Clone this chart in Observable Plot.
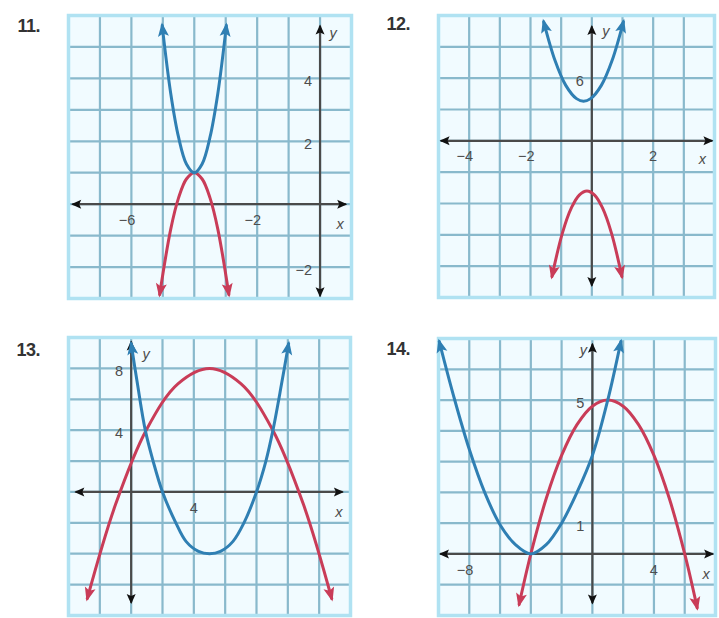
<!DOCTYPE html>
<html><head><meta charset="utf-8">
<script src="https://cdn.jsdelivr.net/npm/d3@7"></script>
<script src="https://cdn.jsdelivr.net/npm/@observablehq/plot@0.6"></script>
<style>
html,body{margin:0;padding:0;background:#fff}
body{width:719px;height:618px;position:relative;overflow:hidden;font-family:"Liberation Sans",Arial,sans-serif}
.panel{position:absolute}
.num{position:absolute;width:40px;text-align:right;font-weight:bold;font-size:18px;color:#333;letter-spacing:-0.5px;line-height:20px}
</style></head><body>
<script>
// ---------- data ----------
// Panel 11
const p11XDomain = [-8, 1];
const p11YDomain = [-3, 6];
const p11GridX = [-8, -7, -6, -5, -4, -3, -2, -1, 0, 1];
const p11GridY = [-3, -2, -1, 0, 1, 2, 3, 4, 5, 6];
const p11XTicks = [-6, -2];
const p11YTicks = [4, 2, -2];
const p11XAxis = [-7.85, 0.8];
const p11YAxis = [-2.9, 5.65];
const p11BlueX = [-5.02, -4.75, -4.5, -4.25, -4, -3.75, -3.5, -3.25, -2.98];
const p11BlueY = [5.68, 3.53, 2.13, 1.28, 1, 1.28, 2.13, 3.53, 5.68];
const p11RedX = [-5.1, -4.75, -4.5, -4.25, -4, -3.75, -3.5, -3.25, -2.9];
const p11RedY = [-2.87, -0.8, 0.2, 0.8, 1, 0.8, 0.2, -0.8, -2.87];

// Panel 12
const p12XDomain = [-5, 4];
const p12YDomain = [-15, 12];
const p12GridX = [-5, -4, -3, -2, -1, 0, 1, 2, 3, 4];
const p12GridY = [-15, -12, -9, -6, -3, 0, 3, 6, 9, 12];
const p12XTicks = [-4, -2, 2];
const p12YTicks = [6];
const p12XAxis = [-4.9, 3.9];
const p12YAxis = [-13.8, 10.9];
const p12BlueX = [-1.57, -1.2, -0.85, -0.5, -0.27, -0.04, 0.31, 0.66, 1.03];
const p12BlueY = [11.4, 7.69, 5.31, 4.04, 3.8, 4.04, 5.31, 7.69, 11.4];
const p12RedX = [-1.3, -0.96, -0.66, -0.41, -0.16, 0.09, 0.34, 0.64, 0.98];
const p12RedY = [-12.99, -8.83, -6.38, -5.19, -4.8, -5.19, -6.38, -8.83, -12.99];

// Panel 13
const p13XDomain = [-4, 14];
const p13YDomain = [-8, 10];
const p13GridX = [-4, -2, 0, 2, 4, 6, 8, 10, 12, 14];
const p13GridY = [-8, -6, -4, -2, 0, 2, 4, 6, 8, 10];
const p13XTicks = [4];
const p13YTicks = [8, 4];
const p13XAxis = [-3.5, 13.45];
const p13YAxis = [-7.13, 9.68];
const p13BlueX = [0, 0.4, 0.9, 1.4, 2, 2.85, 3.5, 4.3, 5, 5.7, 6.5, 7.2, 8, 8.6, 9.05, 9.6, 10.05];
const p13BlueY = [9.6, 7, 4, 2, 0, -2, -3.2, -3.85, -4, -3.85, -3.2, -2, 0, 2, 4, 7, 9.6];
const p13RedX = [-2.8, -1, 1, 3, 5, 7, 9, 11, 12.8];
const p13RedY = [-6.9, -0.82, 4.08, 7.02, 8, 7.02, 4.08, -0.82, -6.9];

// Panel 14
const p14XDomain = [-10, 8];
const p14YDomain = [-2, 7];
const p14GridX = [-10, -8, -6, -4, -2, 0, 2, 4, 6, 8];
const p14GridY = [-2, -1, 0, 1, 2, 3, 4, 5, 6, 7];
const p14XTicks = [-8, 4];
const p14YTicks = [5, 1];
const p14XAxis = [-9.84, 7.78];
const p14YAxis = [-1.58, 6.8];
const p14BlueX = [-9.95, -9, -8, -7, -6, -5, -4, -3, -2, -1, 0, 1, 1.85];
const p14BlueY = [6.9, 5.1, 3.4, 2.0, 0.95, 0.3, 0, 0.3, 1.0, 2.0, 3.2, 5.0, 6.9];
const p14RedX = [-4.76, -4, -3, -2, -1, 0, 1, 2, 3, 4, 5, 6, 6.81];
const p14RedY = [-1.64, 0, 1.8, 3.2, 4.2, 4.8, 5, 4.8, 4.2, 3.2, 1.8, 0, -1.75];

const panelNames = ["11.", "12.", "13.", "14."];

// ---------- style ----------
const BLUE = "#2f7fb3", RED = "#c93c58", GRID = "#89b9cc", BG = "#f1fbff",
      BORDER = "#b0e2f2", AXIS = "#4a4a4a", LABEL = "#4d4d4d";

const fmt = d => d < 0 ? "\u2212" + Math.abs(d) : String(d);
const pts = (xs, ys) => xs.map((x, i) => ({x, y: ys[i]}));

const panels = [
  {name: panelNames[0], left: 0, top: 0, w: 360, h: 310, ml: 68, mr: 9, mt: 15, mb: 12,
   xDomain: p11XDomain, yDomain: p11YDomain, gridX: p11GridX, gridY: p11GridY,
   xTicks: p11XTicks, yTicks: p11YTicks, xAxis: p11XAxis, yAxis: p11YAxis,
   blue: pts(p11BlueX, p11BlueY), red: pts(p11RedX, p11RedY),
   yl: [13, 7], xl: [-5, 20], numLeft: 0, numTop: 16},
  {name: panelNames[1], left: 360, top: 0, w: 359, h: 310, ml: 78, mr: 5, mt: 15, mb: 13,
   xDomain: p12XDomain, yDomain: p12YDomain, gridX: p12GridX, gridY: p12GridY,
   xTicks: p12XTicks, yTicks: p12YTicks, xAxis: p12XAxis, yAxis: p12YAxis,
   blue: pts(p12BlueX, p12BlueY), red: pts(p12RedX, p12RedY),
   yl: [14, 4], xl: [-9, 19], numLeft: 370, numTop: 14},
  {name: panelNames[2], left: 0, top: 310, w: 360, h: 308, ml: 68, mr: 10, mt: 27, mb: 3,
   xDomain: p13XDomain, yDomain: p13YDomain, gridX: p13GridX, gridY: p13GridY,
   xTicks: p13XTicks, yTicks: p13YTicks, xAxis: p13XAxis, yAxis: p13YAxis,
   blue: pts(p13BlueX, p13BlueY), red: pts(p13RedX, p13RedY),
   yl: [15, 12], xl: [-3, 20], numLeft: 0, numTop: 340},
  {name: panelNames[3], left: 360, top: 310, w: 359, h: 308, ml: 78, mr: 4, mt: 28, mb: 3,
   xDomain: p14XDomain, yDomain: p14YDomain, gridX: p14GridX, gridY: p14GridY,
   xTicks: p14XTicks, yTicks: p14YTicks, xAxis: p14XAxis, yAxis: p14YAxis,
   blue: pts(p14BlueX, p14BlueY), red: pts(p14RedX, p14RedY),
   yl: [-9, 6], xl: [-6, 20], numLeft: 370, numTop: 339}
];

function makePanel(c) {
  const txt = {fill: LABEL, fontSize: 14.5, fontFamily: "Liberation Sans, Arial, sans-serif"};
  const ends = {markerStart: "arrow", markerEnd: "arrow"};
  const svg = Plot.plot({
    width: c.w, height: c.h,
    marginLeft: c.ml, marginRight: c.mr, marginTop: c.mt, marginBottom: c.mb,
    x: {domain: c.xDomain, axis: null},
    y: {domain: c.yDomain, axis: null},
    style: {background: "transparent", overflow: "visible", fontFamily: "Liberation Sans, Arial, sans-serif"},
    marks: [
      Plot.frame({fill: BG, stroke: "none"}),
      Plot.ruleX(c.gridX, {stroke: GRID, strokeWidth: 2.2}),
      Plot.ruleY(c.gridY, {stroke: GRID, strokeWidth: 2.2}),
      Plot.frame({stroke: BORDER, strokeWidth: 3.5}),
      Plot.line([{x: c.xAxis[0], y: 0}, {x: c.xAxis[1], y: 0}], {x: "x", y: "y", stroke: AXIS, strokeWidth: 2.2, ...ends}),
      Plot.line([{x: 0, y: c.yAxis[0]}, {x: 0, y: c.yAxis[1]}], {x: "x", y: "y", stroke: AXIS, strokeWidth: 2.2, ...ends}),
      Plot.line(c.red, {x: "x", y: "y", stroke: RED, strokeWidth: 3, curve: "catmull-rom", ...ends}),
      Plot.line(c.blue, {x: "x", y: "y", stroke: BLUE, strokeWidth: 3, curve: "catmull-rom", ...ends}),
      Plot.text(c.xTicks, {x: d => d, y: () => 0, text: fmt, textAnchor: "end", dx: 4, dy: 16, ...txt}),
      Plot.text(c.yTicks, {x: () => 0, y: d => d, text: fmt, textAnchor: "end", dx: -8, dy: 3, ...txt}),
      Plot.text(["y"], {x: () => 0, y: () => c.yAxis[1], text: d => d, dx: c.yl[0], dy: c.yl[1], fontStyle: "italic", ...txt}),
      Plot.text(["x"], {x: () => c.xAxis[1], y: () => 0, text: d => d, dx: c.xl[0], dy: c.xl[1], fontStyle: "italic", ...txt})
    ]
  });
  // filled arrowheads pointing outward at both ends
  svg.querySelectorAll("marker").forEach(m => {
    const col = m.getAttribute("stroke");
    const isAxis = col === AXIS;
    m.setAttribute("orient", "auto-start-reverse");
    m.setAttribute("markerUnits", "userSpaceOnUse");
    m.setAttribute("viewBox", "-20 -10 30 20");
    m.setAttribute("markerWidth", "30");
    m.setAttribute("markerHeight", "20");
    m.setAttribute("stroke", "none");
    m.setAttribute("fill", isAxis ? "#111" : col);
    m.style.overflow = "visible";
    const p = m.querySelector("path");
    if (p) p.setAttribute("d", isAxis ? "M-8,-4.5L2,0L-8,4.5L-6,0Z" : "M-11,-5.5L3,0L-11,5.5L-8,0Z");
  });
  const div = document.createElement("div");
  div.className = "panel";
  div.style.left = c.left + "px";
  div.style.top = c.top + "px";
  div.appendChild(svg);
  document.body.appendChild(div);
  const num = document.createElement("div");
  num.className = "num";
  num.textContent = c.name;
  num.style.left = c.numLeft + "px";
  num.style.top = c.numTop + "px";
  document.body.appendChild(num);
}
panels.forEach(makePanel);
</script>
</body></html>
